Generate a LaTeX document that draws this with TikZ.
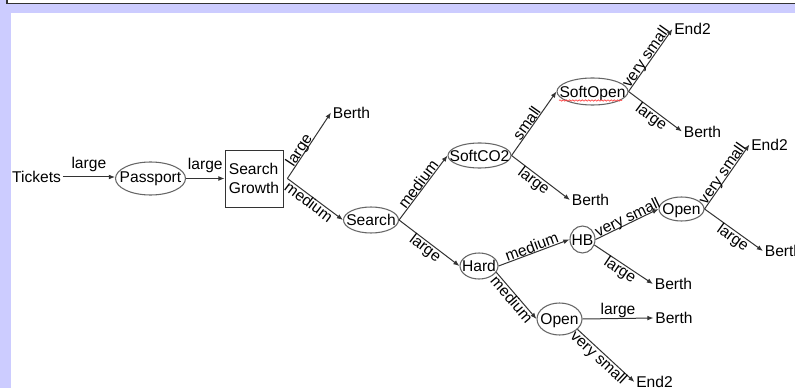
\documentclass[tikz,border=0pt]{standalone}
\usepackage{fontspec}
\setmainfont{Liberation Sans}
\usetikzlibrary{shapes.geometric,arrows.meta,decorations.pathmorphing}

\definecolor{frameband}{HTML}{CCCCFF}
\definecolor{framerule}{HTML}{333333}
\definecolor{edgegray}{HTML}{333333}
\definecolor{ovalgray}{HTML}{666666}

\begin{document}
\begin{tikzpicture}[x=0.75pt,y=-0.75pt,
  every node/.style={font=\fontsize{11.7}{14.25}\selectfont, text=black},
  txt/.style={inner sep=1.2pt, text height=8.4pt, text depth=0pt},
  oval/.style={ellipse, draw=ovalgray, line width=0.8pt, inner sep=0pt},
  boxnode/.style={rectangle, draw=black!80, line width=0.6pt, align=left, inner sep=1.5pt},
  conn/.style={draw=edgegray, line width=0.75pt, -{Latex[length=4.6pt,width=3.6pt]}},
  labup/.style={sloped, anchor=south, text height=8.4pt, text depth=0pt, inner sep=0.3pt},
  labdn/.style={sloped, anchor=north, text height=8.4pt, text depth=0pt, inner sep=-0.3pt},
  labflat/.style={anchor=south, text height=8.4pt, text depth=0pt, inner sep=#1},
]
\useasboundingbox (0,0) rectangle (795,388);

% window chrome around the drawing area
\fill[white] (0,0) rectangle (795,388);
\fill[frameband] (0,0) rectangle (11,388);
\fill[frameband] (0,3) rectangle (795,13);
\fill[white] (7,0) rectangle (795,3);
\draw[framerule, line width=0.9pt] (7,0) -- (7,3.2) -- (795,3.2);

% nodes
\node[txt] (tk) at (36.5,177) {Tickets};
\node[oval, minimum width=52.5pt, minimum height=24.75pt,
      label={[txt, yshift=1.5pt]center:Passport}] (pp) at (150.5,178.5) {};
\node[boxnode, minimum width=43.5pt, minimum height=42.75pt] (sg) at (254,178.5) {Search\\Growth};
\node[txt] (b1) at (351.5,112.5) {Berth};
\node[oval, minimum width=41.25pt, minimum height=19.5pt,
      label={[txt]center:Search}] (se) at (371,220) {};
\node[oval, minimum width=47.25pt, minimum height=18.75pt,
      label={[txt]center:SoftCO2}] (c2) at (479.5,155.5) {};
\node[oval, minimum width=53.25pt, minimum height=20.25pt,
      label={[txt]center:SoftOpen}] (so) at (592.5,91.5) {};
\node[txt] (b2) at (590.5,200) {Berth};
\node[txt] (e1) at (692.5,29) {End2};
\node[txt] (b3) at (702.5,131.5) {Berth};
\node[oval, minimum width=28.5pt, minimum height=19.5pt,
      label={[txt]center:Hard}] (hd) at (479,266) {};
\node[oval, minimum width=18.75pt, minimum height=20.25pt,
      label={[txt]center:HB}] (hb) at (582.5,239.5) {};
\node[oval, minimum width=33.75pt, minimum height=18pt,
      label={[txt]center:Open}] (o1) at (681.5,209) {};
\node[txt] (e2) at (769.5,144.5) {End2};
\node[txt] (b4) at (673.5,284) {Berth};
\node[txt, anchor=west] (b5) at (763,251) {Berth};
\node[oval, minimum width=33.75pt, minimum height=24pt,
      label={[txt]center:Open}] (o2) at (559.5,319) {};
\node[txt] (b6) at (674,318) {Berth};
\node[txt] (e3) at (654.5,382) {End2};

% spell-check squiggle under SoftOpen
\draw[red!75, line width=0.5pt, decorate,
      decoration={snake, amplitude=0.5pt, segment length=2.4pt}]
  ([shift={(-33.5,9)}]so.center) -- ([shift={(29.5,9)}]so.center);

% connectors
\draw[conn] (tk.east) -- (tk.east -| pp.west) node[midway, labflat=5.8pt] {large};
\draw[conn] (pp.east) -- (pp.east -| sg.west) node[midway, labflat=6.5pt] {large};
\draw[conn] ([xshift=3pt]sg.east) -- (b1.west) node[pos=0.38, labup] {large};
\draw[conn] ([xshift=3pt]sg.east) -- (se.west) node[pos=0.45, labdn] {medium};
\draw[conn] (se.east) -- (c2.west) node[midway, labup] {medium};
\draw[conn] (se.east) -- (hd.west) node[midway, labdn] {large};
\draw[conn] (c2.east) -- (so.west) node[pos=0.45, labup] {small};
\draw[conn] (c2.east) -- (b2.west) node[pos=0.45, labdn] {large};
\draw[conn] (so.east) -- (e1.west) node[midway, labup] {very small};
\draw[conn] (so.east) -- (b3.west) node[midway, labdn] {large};
\draw[conn] (hd.east) -- (hb.west) node[midway, labup] {medium};
\draw[conn] (hd.-20) -- (o2.west) node[midway, labdn] {medium};
\draw[conn] (hb.east) -- (o1.west) node[pos=0.55, labup] {very small};
\draw[conn] (hb.-25) -- (b4.west) node[midway, labdn] {large};
\draw[conn] (o1.east) -- (e2.west) node[midway, labup] {very small};
\draw[conn] (o1.east) -- (b5.west) node[pos=0.55, labdn] {large};
\draw[conn] (o2.east) -- (b6.west) node[midway, labflat=2.8pt] {large};
\draw[conn] (o2.-30) -- (e3.west) node[pos=0.45, labdn] {very small};
\end{tikzpicture}
\end{document}
